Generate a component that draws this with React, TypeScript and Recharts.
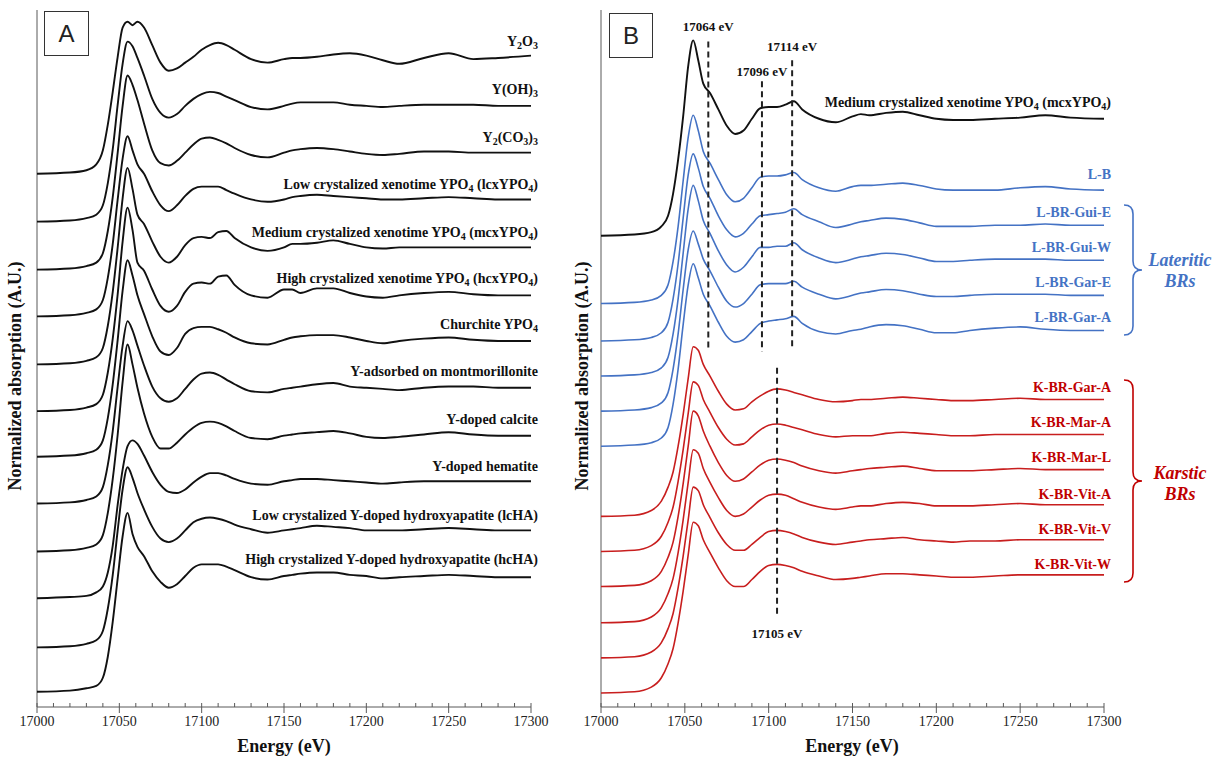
import React from 'react';
import { LineChart, Line, XAxis, YAxis, ReferenceLine, ReferenceDot } from 'recharts';

// shared energy grid (eV)
const ENERGY = [
  17000, 17020, 17030, 17036, 17040, 17043, 17046, 17049, 17052, 17055,
  17058, 17061, 17065, 17070, 17075, 17080, 17085, 17090, 17095, 17100,
  17105, 17110, 17115, 17120, 17130, 17140, 17150, 17155, 17160, 17170,
  17180, 17190, 17200, 17210, 17220, 17235, 17250, 17265, 17280, 17300,
];

const TICKS = [
  17000, 17010, 17020, 17030, 17040, 17050, 17060, 17070, 17080, 17090,
  17100, 17110, 17120, 17130, 17140, 17150, 17160, 17170, 17180, 17190,
  17200, 17210, 17220, 17230, 17240, 17250, 17260, 17270, 17280, 17290, 17300,
];

const Y_TOP = 5.96;

// ---- panel A: reference compounds (normalized absorption) ----
const Y2O3 = [0, 0.01, 0.03, 0.08, 0.2, 0.42, 0.7, 1.0, 1.25, 1.3, 1.27, 1.3, 1.25, 1.1, 0.95, 0.88, 0.9, 0.95, 1.0, 1.06, 1.1, 1.12, 1.1, 1.06, 0.98, 0.95, 0.98, 0.99, 0.99, 1.0, 1.02, 1.03, 1.01, 0.97, 0.94, 0.99, 1.03, 0.98, 0.99, 1.01];
const YOH3 = [0, 0.01, 0.03, 0.06, 0.14, 0.33, 0.62, 1.0, 1.35, 1.54, 1.5, 1.4, 1.25, 1.05, 0.93, 0.89, 0.92, 0.99, 1.05, 1.09, 1.11, 1.1, 1.07, 1.04, 0.98, 0.96, 0.99, 1.01, 1.02, 1.02, 1.02, 1.0, 0.99, 0.98, 0.99, 1.0, 1.0, 1.0, 0.99, 0.99];
const Y2CO33 = [0, 0.01, 0.03, 0.06, 0.14, 0.33, 0.62, 1.0, 1.4, 1.66, 1.58, 1.45, 1.25, 1.02, 0.91, 0.89, 0.93, 1.0, 1.07, 1.12, 1.13, 1.11, 1.08, 1.04, 0.98, 0.96, 1.0, 1.02, 1.03, 1.04, 1.03, 1.01, 0.99, 0.98, 0.99, 1.01, 1.01, 1.0, 1.0, 1.0];
const LCX = [0, 0.01, 0.03, 0.06, 0.14, 0.33, 0.62, 1.0, 1.35, 1.54, 1.42, 1.3, 1.22, 1.07, 0.95, 0.9, 0.95, 1.03, 1.09, 1.11, 1.11, 1.11, 1.08, 1.05, 1.0, 0.98, 1.0, 1.02, 1.03, 1.04, 1.03, 1.02, 1.01, 1.0, 1.0, 1.01, 1.02, 1.01, 1.0, 1.0];
const MCX = [0, 0.01, 0.03, 0.06, 0.14, 0.33, 0.62, 1.0, 1.42, 1.68, 1.5, 1.28, 1.2, 1.05, 0.92, 0.87, 0.92, 1.02, 1.08, 1.09, 1.08, 1.13, 1.14, 1.08, 1.0, 0.97, 1.0, 1.03, 1.03, 1.04, 1.06, 1.03, 1.0, 0.99, 1.0, 1.0, 1.0, 1.0, 1.0, 1.0];
const HCX = [0, 0.01, 0.03, 0.06, 0.14, 0.33, 0.62, 1.0, 1.45, 1.74, 1.55, 1.27, 1.2, 1.04, 0.9, 0.85, 0.9, 1.02, 1.09, 1.1, 1.09, 1.15, 1.16, 1.08, 0.99, 0.97, 1.04, 1.04, 1.01, 1.05, 1.05, 1.01, 0.98, 0.97, 0.99, 1.01, 1.02, 1.0, 0.99, 0.99];
const CHURCHITE = [0, 0.01, 0.03, 0.06, 0.14, 0.33, 0.62, 1.0, 1.42, 1.68, 1.55, 1.38, 1.22, 1.03, 0.9, 0.87, 0.93, 1.05, 1.1, 1.11, 1.11, 1.09, 1.06, 1.02, 0.97, 0.96, 1.0, 1.02, 1.03, 1.04, 1.04, 1.02, 0.99, 0.97, 0.99, 1.01, 1.02, 1.0, 0.99, 0.99];
const MONT = [0, 0.01, 0.03, 0.06, 0.14, 0.33, 0.62, 1.0, 1.35, 1.56, 1.48, 1.35, 1.18, 1.0, 0.9, 0.87, 0.9, 0.98, 1.06, 1.11, 1.12, 1.1, 1.06, 1.02, 0.96, 0.95, 0.98, 0.99, 1.0, 1.02, 1.03, 1.0, 0.99, 0.98, 0.97, 0.99, 1.0, 1.0, 0.99, 0.99];
const CALCITE = [0, 0.01, 0.03, 0.06, 0.14, 0.33, 0.62, 1.0, 1.45, 1.77, 1.6, 1.4, 1.18, 0.98, 0.88, 0.88, 0.93, 1.0, 1.06, 1.1, 1.11, 1.1, 1.07, 1.03, 0.97, 0.96, 0.99, 1.0, 1.01, 1.02, 1.03, 1.01, 0.98, 0.97, 0.98, 1.0, 1.02, 1.0, 0.99, 0.99];
const HEMATITE = [0, 0.01, 0.02, 0.05, 0.1, 0.22, 0.45, 0.8, 1.1, 1.3, 1.35, 1.32, 1.22, 1.08, 0.97, 0.91, 0.9, 0.93, 0.99, 1.04, 1.07, 1.07, 1.05, 1.02, 0.98, 0.97, 1.0, 1.01, 1.02, 1.02, 1.01, 1.0, 0.99, 0.98, 0.99, 1.0, 1.0, 1.0, 1.0, 1.0];
const LCHA = [0, 0.01, 0.03, 0.06, 0.14, 0.33, 0.62, 1.0, 1.35, 1.54, 1.45, 1.32, 1.18, 1.03, 0.93, 0.9, 0.93, 1.0, 1.07, 1.1, 1.11, 1.1, 1.08, 1.05, 1.01, 0.98, 1.0, 1.01, 1.02, 1.04, 1.03, 1.02, 1.0, 1.0, 1.0, 1.01, 1.02, 1.01, 1.0, 1.0];
const HCHA = [0, 0.01, 0.03, 0.05, 0.12, 0.3, 0.6, 0.97, 1.33, 1.53, 1.35, 1.24, 1.16, 1.03, 0.94, 0.89, 0.92, 0.99, 1.06, 1.09, 1.09, 1.09, 1.07, 1.04, 0.98, 0.96, 0.99, 1.0, 1.01, 1.02, 1.02, 1.0, 0.99, 0.97, 0.98, 0.99, 1.0, 0.99, 0.98, 0.98];

// vertical stacking offsets, top to bottom
const OFFSETS_A = [4.56, 4.15, 3.74, 3.34, 2.93, 2.53, 2.14, 1.74, 1.33, 0.93, 0.51, 0.13];

// '_' prefix = subscript
const LABELS_A = [
  ['Y', '_2', 'O', '_3'],
  ['Y(OH)', '_3'],
  ['Y', '_2', '(CO', '_3', ')', '_3'],
  ['Low crystalized xenotime YPO', '_4', ' (lcxYPO', '_4', ')'],
  ['Medium crystalized xenotime YPO', '_4', ' (mcxYPO', '_4', ')'],
  ['High crystalized xenotime YPO', '_4', ' (hcxYPO', '_4', ')'],
  ['Churchite YPO', '_4'],
  ['Y-adsorbed on montmorillonite'],
  ['Y-doped calcite'],
  ['Y-doped hematite'],
  ['Low crystalized Y-doped hydroxyapatite (lcHA)'],
  ['High crystalized Y-doped hydroxyapatite (hcHA)'],
];

const SPECTRA_A = [Y2O3, YOH3, Y2CO33, LCX, MCX, HCX, CHURCHITE, MONT, CALCITE, HEMATITE, LCHA, HCHA];

// ---- panel B: bauxite residues ----
const MCX_B = [0, 0.01, 0.03, 0.08, 0.17, 0.36, 0.65, 1.02, 1.45, 1.67, 1.5, 1.3, 1.22, 1.08, 0.94, 0.87, 0.9, 1.0, 1.09, 1.1, 1.1, 1.12, 1.15, 1.08, 1.0, 0.97, 1.02, 1.04, 1.03, 1.05, 1.06, 1.03, 1.0, 0.99, 0.99, 1.0, 1.01, 1.03, 1.01, 1.0];
const L_B = [0, 0.01, 0.03, 0.07, 0.16, 0.36, 0.66, 1.05, 1.42, 1.61, 1.48, 1.3, 1.2, 1.06, 0.93, 0.87, 0.9, 0.99, 1.08, 1.09, 1.09, 1.1, 1.12, 1.06, 0.99, 0.96, 1.0, 1.01, 1.01, 1.02, 1.03, 1.01, 0.98, 0.97, 0.97, 0.97, 0.99, 1.0, 0.98, 0.97];
const L_GUI_E = [0, 0.01, 0.03, 0.07, 0.16, 0.36, 0.66, 1.05, 1.42, 1.6, 1.48, 1.32, 1.22, 1.07, 0.95, 0.89, 0.92, 1.0, 1.07, 1.08, 1.09, 1.1, 1.13, 1.08, 1.02, 0.97, 1.0, 1.02, 1.03, 1.05, 1.04, 1.01, 0.98, 0.98, 0.98, 0.99, 0.99, 1.0, 0.99, 0.99];
const L_GUI_W = [0, 0.01, 0.03, 0.07, 0.16, 0.36, 0.66, 1.05, 1.43, 1.63, 1.5, 1.33, 1.22, 1.07, 0.95, 0.89, 0.93, 1.02, 1.1, 1.1, 1.11, 1.11, 1.14, 1.08, 1.01, 0.97, 1.0, 1.02, 1.03, 1.05, 1.04, 1.01, 0.98, 0.98, 0.99, 1.0, 1.0, 1.0, 0.99, 0.99];
const L_GAR_E = [0, 0.01, 0.03, 0.07, 0.16, 0.36, 0.66, 1.04, 1.38, 1.54, 1.43, 1.3, 1.2, 1.06, 0.94, 0.89, 0.92, 1.0, 1.08, 1.09, 1.09, 1.09, 1.11, 1.06, 1.0, 0.96, 0.99, 1.01, 1.02, 1.04, 1.03, 1.0, 0.98, 0.98, 0.99, 1.0, 1.0, 1.0, 0.99, 0.99];
const L_GAR_A = [0, 0.01, 0.03, 0.07, 0.16, 0.36, 0.66, 1.04, 1.38, 1.56, 1.44, 1.3, 1.2, 1.06, 0.94, 0.89, 0.91, 0.98, 1.05, 1.07, 1.08, 1.09, 1.11, 1.05, 0.98, 0.96, 0.99, 1.0, 1.02, 1.04, 1.03, 1.0, 0.97, 0.97, 0.99, 1.01, 1.02, 1.0, 0.99, 0.99];
const K_GAR_A = [0, 0.01, 0.05, 0.13, 0.25, 0.38, 0.6, 0.87, 1.18, 1.45, 1.42, 1.3, 1.2, 1.07, 0.96, 0.91, 0.92, 0.98, 1.03, 1.07, 1.09, 1.08, 1.06, 1.04, 1.0, 0.98, 0.99, 1.0, 1.0, 1.01, 1.02, 1.01, 1.0, 0.99, 0.99, 1.0, 1.01, 1.0, 1.0, 1.0];
const K_MAR_A = [0, 0.01, 0.05, 0.13, 0.25, 0.38, 0.6, 0.87, 1.18, 1.45, 1.42, 1.3, 1.19, 1.06, 0.96, 0.91, 0.92, 0.98, 1.04, 1.08, 1.09, 1.08, 1.06, 1.04, 1.0, 0.98, 0.99, 0.99, 0.99, 1.01, 1.02, 1.01, 1.0, 0.99, 0.99, 1.0, 1.0, 1.0, 1.0, 1.0];
const K_MAR_L = [0, 0.01, 0.05, 0.13, 0.25, 0.38, 0.6, 0.88, 1.2, 1.5, 1.46, 1.33, 1.2, 1.06, 0.95, 0.9, 0.92, 0.98, 1.04, 1.08, 1.09, 1.08, 1.06, 1.03, 0.99, 0.97, 0.99, 1.0, 1.01, 1.02, 1.03, 1.01, 0.99, 0.99, 0.99, 1.0, 1.01, 1.0, 1.0, 1.0];
const K_VIT_A = [0, 0.01, 0.05, 0.13, 0.25, 0.38, 0.6, 0.88, 1.2, 1.48, 1.45, 1.32, 1.2, 1.07, 0.96, 0.91, 0.93, 0.99, 1.05, 1.09, 1.1, 1.09, 1.06, 1.03, 0.99, 0.97, 0.99, 1.0, 1.0, 1.02, 1.03, 1.02, 1.0, 1.0, 1.0, 1.01, 1.02, 1.01, 1.01, 1.01];
const K_VIT_V = [0, 0.01, 0.05, 0.13, 0.25, 0.38, 0.6, 0.87, 1.18, 1.46, 1.43, 1.31, 1.2, 1.07, 0.97, 0.92, 0.92, 0.97, 1.03, 1.08, 1.09, 1.08, 1.06, 1.03, 0.99, 0.97, 0.99, 1.0, 1.01, 1.02, 1.03, 1.01, 1.0, 0.99, 1.0, 1.0, 1.01, 1.01, 1.01, 1.01];
const K_VIT_W = [0, 0.01, 0.05, 0.13, 0.25, 0.38, 0.6, 0.87, 1.18, 1.46, 1.43, 1.31, 1.2, 1.07, 0.96, 0.91, 0.91, 0.97, 1.04, 1.09, 1.1, 1.09, 1.07, 1.04, 1.0, 0.97, 0.98, 0.99, 1.0, 1.02, 1.02, 1.01, 1.0, 0.99, 0.99, 1.0, 1.01, 1.01, 1.01, 1.01];

const SPECTRA_B = [MCX_B, L_B, L_GUI_E, L_GUI_W, L_GAR_E, L_GAR_A, K_GAR_A, K_MAR_A, K_MAR_L, K_VIT_A, K_VIT_V, K_VIT_W];
const OFFSETS_B = [4.03, 3.45, 3.13, 2.83, 2.53, 2.23, 1.63, 1.33, 1.03, 0.72, 0.42, 0.12];
const LABELS_B = [
  ['Medium crystalized xenotime YPO', '_4', ' (mcxYPO', '_4', ')'],
  ['L-B'], ['L-BR-Gui-E'], ['L-BR-Gui-W'], ['L-BR-Gar-E'], ['L-BR-Gar-A'],
  ['K-BR-Gar-A'], ['K-BR-Mar-A'], ['K-BR-Mar-L'], ['K-BR-Vit-A'], ['K-BR-Vit-V'], ['K-BR-Vit-W'],
];
const GROUP_B = ['ref', 'lat', 'lat', 'lat', 'lat', 'lat', 'kar', 'kar', 'kar', 'kar', 'kar', 'kar'];

// marked energies in panel B: [energy, top, bottom, label y]
const MARKS_B = [
  [17064, 5.69, 3.05, 5.82],
  [17096, 5.35, 3.04, 5.43],
  [17114, 5.53, 3.05, 5.65],
  [17105, 2.9, 0.77, 0.63],
];

const SERIF = "'Liberation Serif', 'Times New Roman', serif";
const AXIS = '#595959';
const BLUE = '#4472C4';
const RED = '#C81E1E';
const COLORS: Record<string, string> = { ref: '#111', lat: BLUE, kar: RED };
const TEXT_COLORS: Record<string, string> = { ref: '#111', lat: BLUE, kar: '#C00000' };

function buildRows(spectra: number[][], offsets: number[]) {
  return ENERGY.map((e, i) => {
    const row: Record<string, number> = { e };
    spectra.forEach((s, k) => {
      row['s' + k] = +(offsets[k] + s[i]).toFixed(3);
    });
    return row;
  });
}

const dataA = buildRows(SPECTRA_A, OFFSETS_A);
const dataB = buildRows(SPECTRA_B, OFFSETS_B);

function richParts(parts: string[]) {
  let shifted = false;
  return parts.map((p, i) => {
    const sub = p.startsWith('_');
    let dy = 0;
    if (sub && !shifted) { dy = 3; shifted = true; }
    else if (!sub && shifted) { dy = -3; shifted = false; }
    return (
      <tspan key={i} dy={dy} fontSize={sub ? 10 : undefined}>
        {sub ? p.slice(1) : p}
      </tspan>
    );
  });
}

const labelShape = (parts: string[], color: string, anchor = 'end', dx = 7, size = 14) => (p: any) => (
  <text
    x={p.cx + dx}
    y={p.cy + 4.5}
    textAnchor={anchor}
    fontFamily={SERIF}
    fontWeight="bold"
    fontSize={size}
    fill={color}
  >
    {richParts(parts)}
  </text>
);

const EnergyTick = (props: any) => {
  const { x, y, payload } = props;
  const major = payload.value % 50 === 0;
  return (
    <g>
      <line x1={x} x2={x} y1={y - 4} y2={major ? y + 6 : y} stroke={AXIS} strokeWidth={1} />
      {major && (
        <text x={x} y={y + 19} textAnchor="middle" fontFamily={SERIF} fontSize={14} fill="#222">
          {payload.value}
        </text>
      )}
    </g>
  );
};

function xAxisEl() {
  return (
    <XAxis
      dataKey="e"
      type="number"
      domain={[17000, 17300]}
      ticks={TICKS}
      interval={0}
      tick={<EnergyTick />}
      tickLine={false}
      tickSize={0}
      tickMargin={0}
      height={53}
      axisLine={{ stroke: AXIS }}
      allowDataOverflow
    />
  );
}

function PanelA() {
  return (
    <LineChart width={560} height={760} data={dataA} margin={{ top: 10, right: 29, bottom: 0, left: 37 }}>
      {xAxisEl()}
      <YAxis hide type="number" domain={[0, Y_TOP]} allowDataOverflow />
      <ReferenceLine x={17000} stroke={AXIS} />
      {SPECTRA_A.map((_, k) => (
        <Line
          key={k}
          dataKey={'s' + k}
          type="monotone"
          stroke="#111"
          strokeWidth={1.9}
          dot={false}
          isAnimationActive={false}
        />
      ))}
      {LABELS_A.map((parts, k) => (
        <ReferenceDot
          key={'l' + k}
          x={17300}
          y={OFFSETS_A[k] + 1.13}
          r={0}
          shape={labelShape(parts, '#111')}
        />
      ))}
    </LineChart>
  );
}

function PanelB() {
  return (
    <LineChart width={651} height={760} data={dataB} margin={{ top: 10, right: 112, bottom: 0, left: 36 }}>
      {xAxisEl()}
      <YAxis hide type="number" domain={[0, Y_TOP]} allowDataOverflow />
      <ReferenceLine x={17000} stroke={AXIS} />
      {SPECTRA_B.map((_, k) => (
        <Line
          key={k}
          dataKey={'s' + k}
          type="monotone"
          stroke={COLORS[GROUP_B[k]]}
          strokeWidth={GROUP_B[k] === 'ref' ? 1.9 : 1.6}
          dot={false}
          isAnimationActive={false}
        />
      ))}
      {MARKS_B.map(([e, top, bottom]) => (
        <ReferenceLine
          key={'m' + e}
          segment={[{ x: e, y: top }, { x: e, y: bottom }]}
          stroke="#222"
          strokeWidth={2}
          strokeDasharray="6 4"
        />
      ))}
      {MARKS_B.map(([e, , , ly]) => (
        <ReferenceDot
          key={'t' + e}
          x={e}
          y={ly}
          r={0}
          shape={labelShape([e + ' eV'], '#111', 'middle', 0, 13)}
        />
      ))}
      {LABELS_B.map((parts, k) => (
        <ReferenceDot
          key={'l' + k}
          x={17300}
          y={OFFSETS_B[k] + (k === 0 ? 1.14 : 1.1)}
          r={0}
          shape={labelShape(parts, TEXT_COLORS[GROUP_B[k]])}
        />
      ))}
    </LineChart>
  );
}

function Brace({ top, bottom, color }: { top: number; bottom: number; color: string }) {
  const mid = (top + bottom) / 2;
  const x0 = 1124;
  const x1 = 1133;
  const x2 = 1142;
  const d = `M${x0},${top} Q${x1},${top} ${x1},${top + 9} L${x1},${mid - 9} Q${x1},${mid} ${x2},${mid} Q${x1},${mid} ${x1},${mid + 9} L${x1},${bottom - 9} Q${x1},${bottom} ${x0},${bottom}`;
  return <path d={d} fill="none" stroke={color} strokeWidth={1.6} />;
}

export default function App() {
  const title = { fontFamily: SERIF, fontWeight: 'bold' as const, fontSize: 18, fill: '#111' };
  const group = { fontFamily: SERIF, fontWeight: 'bold' as const, fontStyle: 'italic' as const, fontSize: 18 };
  return (
    <div style={{ position: 'absolute', left: 0, top: 0, width: 1216, height: 760, background: '#fff' }}>
      <div style={{ position: 'absolute', left: 0, top: 0 }}>
        <PanelA />
      </div>
      <div style={{ position: 'absolute', left: 565, top: 0 }}>
        <PanelB />
      </div>
      <svg width={1216} height={760} style={{ position: 'absolute', left: 0, top: 0, pointerEvents: 'none' }}>
        <rect x={44.5} y={11.5} width={44} height={44} fill="#fff" stroke="#333" />
        <text x={66.5} y={42} textAnchor="middle" fontFamily="'Liberation Sans', Arial, sans-serif" fontSize={24} fill="#222">A</text>
        <rect x={609.5} y={13.5} width={43} height={44} fill="#fff" stroke="#333" />
        <text x={631} y={44} textAnchor="middle" fontFamily="'Liberation Sans', Arial, sans-serif" fontSize={24} fill="#222">B</text>

        <text x={284} y={752} textAnchor="middle" {...title}>Energy (eV)</text>
        <text x={852} y={752} textAnchor="middle" {...title}>Energy (eV)</text>
        <text transform="translate(21,376) rotate(-90)" textAnchor="middle" {...title}>Normalized absorption (A.U.)</text>
        <text transform="translate(588,376) rotate(-90)" textAnchor="middle" {...title}>Normalized absorption (A.U.)</text>

        <Brace top={205} bottom={335} color={BLUE} />
        <Brace top={380} bottom={582} color="#C00000" />
        <text x={1180} y={266} textAnchor="middle" {...group} fill={BLUE}>Lateritic</text>
        <text x={1180} y={287} textAnchor="middle" {...group} fill={BLUE}>BRs</text>
        <text x={1180} y={479} textAnchor="middle" {...group} fill="#C00000">Karstic</text>
        <text x={1180} y={500} textAnchor="middle" {...group} fill="#C00000">BRs</text>
      </svg>
    </div>
  );
}
